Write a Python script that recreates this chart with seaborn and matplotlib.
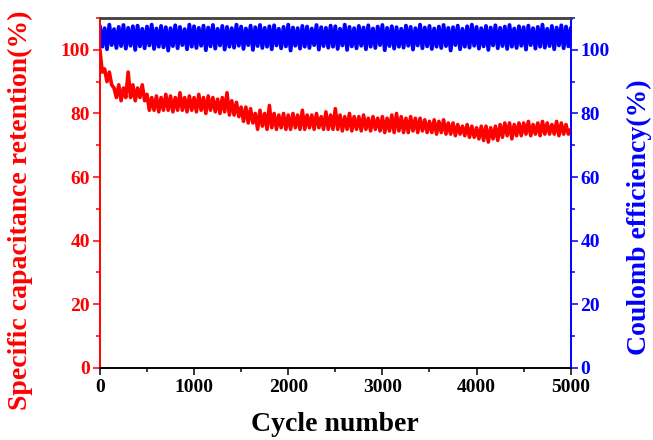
import numpy as np
import pandas as pd
import seaborn as sns
import matplotlib
matplotlib.use("Agg")
import matplotlib.pyplot as plt
from matplotlib.ticker import MultipleLocator

# ---------------- data (one value every 25 cycles) ----------------
cycle_step = 25
retention = [
    100, 93, 94, 90, 93, 89, 88, 85, 89, 84,
    88, 85, 93, 85, 89, 84, 88, 85, 89, 84,
    86, 81, 85, 81, 85.5, 80.5, 85, 81, 86, 81,
    85.5, 80.5, 85, 81, 86.5, 81, 85, 80.5, 85.5, 81,
    85, 80.5, 86, 81, 85, 80, 85.5, 81, 85, 80.5,
    84.5, 80, 85, 80.5, 86.5, 79.5, 84, 79.5, 83.5, 79,
    82, 77.5, 82, 77, 81.5, 77, 80, 75, 81, 76,
    80, 75, 82.5, 75.5, 80, 75, 79.5, 75.5, 80, 75,
    79.5, 75, 80, 75.5, 79.5, 75, 81, 75, 79.5, 75.5,
    79.5, 75, 80, 75.5, 79, 75, 80.5, 75, 79.5, 75,
    81.5, 75, 79.5, 74.5, 79, 75, 80, 74.5, 79, 75,
    79, 74.5, 79.5, 75, 78.5, 74.5, 79, 75, 78.5, 74.5,
    79, 74, 78.5, 74.5, 79.5, 74, 80, 74.5, 79, 74,
    78.5, 74, 79, 74.5, 78.5, 74, 78.5, 74.5, 78, 74,
    77.5, 74, 78, 73.5, 77.5, 74, 78, 73.5, 77, 73.5,
    77, 73, 76.5, 73.5, 76, 73, 76.5, 72.5, 76, 72.5,
    75.5, 72, 76, 71.5, 76, 71, 75.5, 72, 76, 71.5,
    76.5, 72.5, 77, 73, 77, 72, 76.5, 73, 77, 73,
    77, 73.5, 77.5, 73, 76.5, 73.5, 77, 73, 77.5, 73.5,
    77, 73.5, 76.5, 73.5, 77.5, 73, 77, 73.5, 76.5, 73.5,
    75,
]
coulomb = [
    107.5, 101.0, 106.8, 100.2, 107.9, 101.5, 106.5, 100.6, 107.2, 101.2,
    107.8, 100.4, 106.9, 101.3, 107.4, 100.0, 107.6, 101.1, 106.6, 100.5,
    107.3, 101.4, 107.9, 100.3, 106.7, 101.0, 107.5, 100.8, 107.1, 99.8,
    106.8, 101.2, 107.7, 100.5, 107.2, 101.5, 106.5, 100.2, 107.9, 101.0,
    107.4, 100.6, 106.9, 101.3, 107.6, 99.9, 107.0, 101.1, 107.8, 100.4,
    106.6, 101.4, 107.5, 100.1, 107.2, 101.0, 106.8, 100.7, 107.9, 101.3,
    107.3, 100.3, 106.7, 101.5, 107.6, 100.0, 107.1, 101.2, 107.8, 100.6,
    106.9, 101.0, 107.4, 100.2, 107.7, 101.4, 106.6, 100.5, 107.2, 101.1,
    107.9, 99.8, 107.0, 101.3, 106.8, 100.4, 107.5, 101.0, 107.3, 100.6,
    106.7, 101.5, 107.8, 100.1, 107.1, 101.2, 106.9, 100.7, 107.6, 101.0,
    107.4, 100.3, 106.6, 101.4, 107.9, 100.0, 107.2, 101.1, 106.8, 100.5,
    107.5, 101.3, 107.0, 100.2, 107.7, 101.0, 106.7, 100.6, 107.3, 101.5,
    107.8, 99.9, 106.9, 101.2, 107.4, 100.4, 107.1, 101.0, 106.6, 100.7,
    107.6, 101.3, 107.2, 100.1, 106.8, 101.4, 107.9, 100.5, 107.0, 101.1,
    107.5, 100.3, 106.7, 101.0, 107.3, 100.6, 107.8, 101.2, 106.9, 99.8,
    107.1, 101.5, 107.6, 100.2, 106.6, 101.0, 107.4, 100.7, 107.9, 101.3,
    107.2, 100.4, 106.8, 101.1, 107.5, 100.0, 107.0, 101.4, 107.7, 100.5,
    106.9, 101.2, 107.3, 100.3, 107.8, 101.0, 106.7, 100.6, 107.4, 101.3,
    107.1, 100.1, 107.6, 101.5, 106.8, 100.4, 107.2, 101.0, 107.9, 100.7,
    106.6, 101.2, 107.5, 100.2, 107.0, 101.4, 107.7, 100.5, 107.3, 101.1,
    106.9,
]
cycles = [i * cycle_step for i in range(len(retention))]

x_ticks = [0, 1000, 2000, 3000, 4000, 5000]
y_ticks = [0, 20, 40, 60, 80, 100]

df = pd.DataFrame({"cycle": cycles, "retention": retention, "coulomb": coulomb})

# ---------------- style ----------------
sns.set_theme(style="ticks")
plt.rcParams["font.family"] = ["Liberation Serif", "DejaVu Serif"]
plt.rcParams["font.weight"] = "bold"
plt.rcParams["path.simplify"] = False

RED = "#ff0000"
BLUE = "#0000ff"

fig, ax = plt.subplots(figsize=(6.53, 4.40), dpi=100)
fig.subplots_adjust(left=0.153, right=0.874, top=0.959, bottom=0.164)
ax2 = ax.twinx()

sns.lineplot(data=df, x="cycle", y="retention", ax=ax, color=RED, linewidth=2.6)
sns.lineplot(data=df, x="cycle", y="coulomb", ax=ax2, color=BLUE, linewidth=2.8)
ax2.set_zorder(ax.get_zorder() - 1)
ax.patch.set_visible(False)

for a in (ax, ax2):
    a.set_xlim(0, 5000)
    a.set_ylim(0, 110)
    a.set_yticks(y_ticks)
    a.yaxis.set_minor_locator(MultipleLocator(10))

ax.set_xticks(x_ticks)
ax.xaxis.set_minor_locator(MultipleLocator(500))
ax.set_xticklabels([str(t) for t in x_ticks], fontsize=14, fontweight="bold", color="black")
ax.set_yticklabels([str(t) for t in y_ticks], fontsize=14, fontweight="bold", color=RED)
ax2.set_yticklabels([str(t) for t in y_ticks], fontsize=14, fontweight="bold", color=BLUE)

ax.set_xlabel("Cycle number", fontsize=20, fontweight="bold", color="black")
ax.set_ylabel("Specific capacitance retention(%)", fontsize=20, fontweight="bold", color=RED)
ax2.set_ylabel("Coulomb efficiency(%)", fontsize=20, fontweight="bold", color=BLUE)
ax.xaxis.set_label_coords(0.5, -0.125)
ax.yaxis.set_label_coords(-0.142, 0.45)
ax2.yaxis.set_label_coords(1.119, 0.43)

# spines
for a in (ax, ax2):
    a.spines["left"].set_color(RED)
    a.spines["right"].set_color(BLUE)
    a.spines["top"].set_color("#444444")
    a.spines["bottom"].set_color("black")
    for s in a.spines.values():
        s.set_linewidth(1.2)
    a.spines["top"].set_linewidth(1.8)
    a.spines["top"].set_visible(True)
    a.spines["right"].set_visible(True)

ax.tick_params(axis="y", which="both", colors=RED, direction="out", length=5, width=1.1, pad=2)
ax.tick_params(axis="y", which="minor", length=3)
ax.tick_params(axis="x", which="both", colors="black", direction="out", length=5, width=1.1, pad=3)
ax.tick_params(axis="x", which="minor", length=3)
ax2.tick_params(axis="y", which="both", colors=BLUE, direction="out", length=5, width=1.1, pad=2)
ax2.tick_params(axis="y", which="minor", length=3)

fig.savefig("out.png", dpi=100)
